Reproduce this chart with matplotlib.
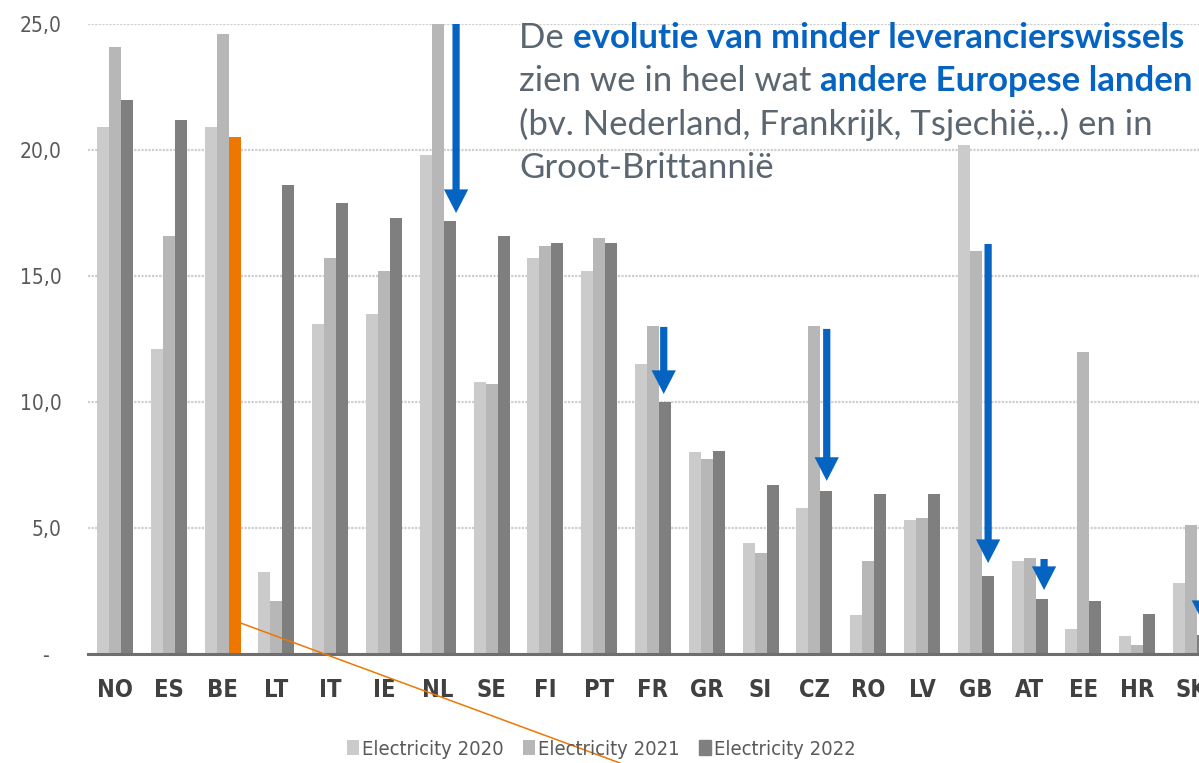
### LEVERANCIERSWISSELS ELEKTRICITEIT 2020-2022 ###

import numpy as np
import matplotlib as mtp
mtp.use('Agg')
import matplotlib.pyplot as plt
from matplotlib.offsetbox import TextArea, HPacker, VPacker, AnchoredOffsetbox

# DATA
landen = ["NO", "ES", "BE", "LT", "IT", "IE", "NL", "SE", "FI", "PT", "FR",
          "GR", "SI", "CZ", "RO", "LV", "GB", "AT", "EE", "HR", "SK"]
elek_2020 = [20.9, 12.1, 20.9, 3.25, 13.1, 13.5, 19.8, 10.8, 15.7, 15.2, 11.5,
             8.0, 4.4, 5.8, 1.55, 5.3, 20.2, 3.7, 1.0, 0.7, 2.8]
elek_2021 = [24.1, 16.6, 24.6, 2.1, 15.7, 15.2, 25.0, 10.7, 16.2, 16.5, 13.0,
             7.75, 4.0, 13.0, 3.7, 5.4, 16.0, 3.8, 12.0, 0.35, 5.1]
elek_2022 = [22.0, 21.2, 20.5, 18.6, 17.9, 17.3, 17.2, 16.6, 16.3, 16.3, 10.0,
             8.05, 6.7, 6.45, 6.35, 6.35, 3.1, 2.2, 2.1, 1.6, 0.75]
reeksen = ["Electricity 2020", "Electricity 2021", "Electricity 2022"]
y_ticks = [0, 5, 10, 15, 20, 25]
y_labels = ["-  ", "5,0", "10,0", "15,0", "20,0", "25,0"]
belgie = "BE"

# pijlen: (x, staart, punt) in data-eenheden
pijlen = [(6.34, 25.0, 17.5), (10.20, 12.98, 10.32), (13.23, 12.9, 6.87),
          (16.23, 16.27, 3.61), (17.27, 3.77, 2.54), (20.24, 5.0, 1.19)]

kleuren = ["#cbcbcb", "#b7b7b7", "#7f7f7f"]
oranje = "#ee7700"
blauw = "#0563C1"
tekstgrijs = "#5b6670"

fig = plt.figure(figsize=(11.99, 7.63), dpi=100)
ax = fig.add_axes([88 / 1199, 1 - 654 / 763, 1 - 88 / 1199, (654 - 24) / 763])

x = np.arange(len(landen))
w = 0.223
for i, (data, kl) in enumerate(zip([elek_2020, elek_2021, elek_2022], kleuren)):
    kleur = [kl] * len(landen)
    if i == 2:
        kleur[landen.index(belgie)] = oranje
    ax.bar(x + (i - 1) * w, data, width=w, color=kleur, label=reeksen[i], zorder=2)

ax.set_xlim(-0.502, 20.15)
ax.set_ylim(0, 25)
ax.set_yticks(y_ticks)
ax.set_yticklabels(y_labels)
ax.set_xticks(x)
ax.set_xticklabels(landen)

smal = dict(family='DejaVu Sans', stretch='condensed')
for t in ax.get_yticklabels():
    t.set_fontproperties(dict(smal, size=15))
    t.set_color("#595959")
for t in ax.get_xticklabels():
    t.set_fontproperties(dict(smal, size=17, weight='bold'))
    t.set_color("#404040")
ax.tick_params(axis='y', length=0, pad=19)
ax.tick_params(axis='x', length=0, pad=17)

for s in ['left', 'right', 'top']:
    ax.spines[s].set_visible(False)
ax.spines['bottom'].set_color("#6e6e6e")
ax.spines['bottom'].set_linewidth(2.2)
ax.spines['bottom'].set_zorder(3)
ax.yaxis.grid(True, color="#cfcfcf", linestyle=(0, (1, 0.6)), linewidth=1.6, zorder=0)
ax.set_axisbelow(True)

# PIJLEN
for px, staart, punt in pijlen:
    ax.annotate('', xy=(px, punt), xytext=(px, staart), annotation_clip=False,
                arrowprops=dict(arrowstyle='simple,head_length=17,head_width=17.5,tail_width=5.2',
                                mutation_scale=1, color=blauw, lw=0, shrinkA=0, shrinkB=0),
                zorder=5)

# ORANJE LIJN vanaf de Belgische balk
bi = landen.index(belgie)
ax.plot([bi + 1.5 * w, 9.39], [1.23, -4.33], color=oranje, lw=1.1, clip_on=False, zorder=6)

# LEGENDE
h, l = ax.get_legend_handles_labels()
leg = fig.legend(h, l, loc='center', bbox_to_anchor=(0.5017, 0.0183), ncol=3, frameon=False,
                 handlelength=0.6, handleheight=0.75, handletextpad=0.15, columnspacing=0.95,
                 prop=dict(smal, size=14.5))
for t in leg.get_texts():
    t.set_color("#595959")
leg.legend_handles[2].set_color(kleuren[2])

# TEKSTBLOK
fs = 25
regels = [
    [("De ", False), ("evolutie van minder leverancierswissels", True)],
    [("zien we in heel wat ", False), ("andere Europese landen", True)],
    [("(bv. Nederland, Frankrijk, Tsjechië,..) en in", False)],
    [("Groot-Brittannië", False)],
]
rijen = []
for regel in regels:
    delen = []
    for tekst, vet in regel:
        delen.append(TextArea(tekst, textprops=dict(
            family='Lato', fontsize=fs, fontweight='bold' if vet else 'normal',
            color=blauw if vet else tekstgrijs)))
    rijen.append(HPacker(children=delen, align='baseline', pad=0, sep=0))
blok = VPacker(children=rijen, align='left', pad=0, sep=8)
box = AnchoredOffsetbox(loc='upper left', child=blok, bbox_to_anchor=(519 / 1199, 1 - 22 / 763),
                        bbox_transform=fig.transFigure, frameon=False, pad=0, borderpad=0)
fig.add_artist(box)

plt.savefig("out.png", dpi=100)
